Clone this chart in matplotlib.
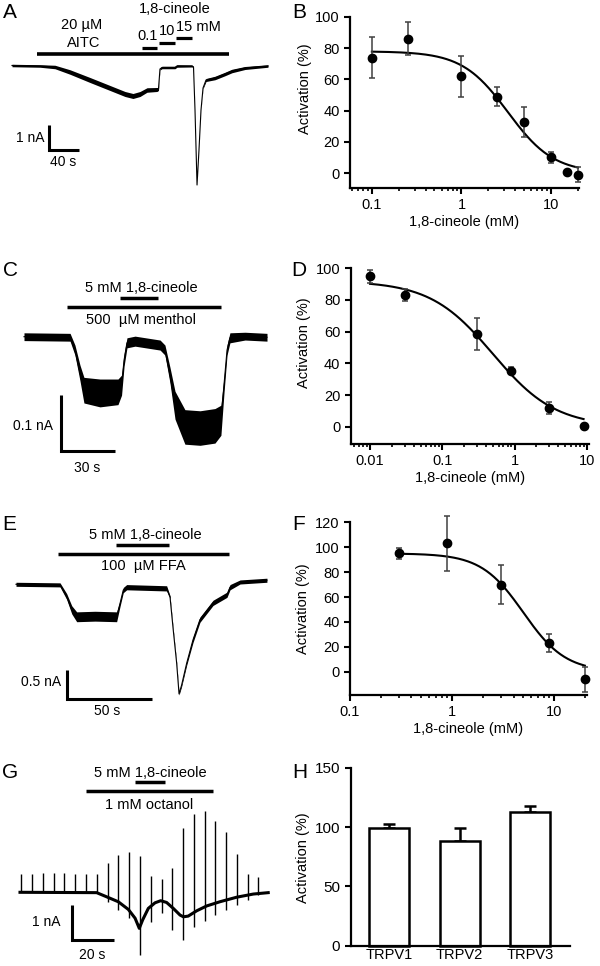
import numpy as np
import matplotlib
matplotlib.use("Agg")
import matplotlib.pyplot as plt

plt.rcParams['font.family'] = ['Liberation Sans', 'DejaVu Sans']

# ---------------- data ----------------
# A: 20 uM AITC current, block by 1,8-cineole (t s, I nA, noise half-width nA)
a_t = [0, 37.3, 57.3, 77.3, 104, 130.7, 150.7, 161.3, 170.7, 180, 193.3, 195.3, 197.3, 200, 217.3,
       220, 240, 242, 244, 246.7, 249.3, 252, 254.7, 258.7, 270.7, 284, 293.3, 310.7, 341.3]
a_i = [0.02, 0, -0.04, -0.24, -0.56, -0.88, -1.12, -1.2, -1.12, -0.96, -0.94, -0.92, -0.12, -0.06, -0.06,
       0, 0, -0.04, -1.76, -4.76, -3.36, -1.76, -0.88, -0.56, -0.48, -0.32, -0.2, -0.08, 0]
a_n = [0.05, 0.05, 0.07, 0.09, 0.1, 0.1, 0.1, 0.1, 0.1, 0.09, 0.08, 0.06, 0.04, 0.05, 0.05,
       0.05, 0.04, 0.02, 0.01, 0.01, 0.01, 0.01, 0.03, 0.06, 0.07, 0.07, 0.07, 0.06, 0.05]
a_aitc = (33.3, 289.3)
a_cin_on = [173.3, 196.0, 218.7]
a_cin_off = [193.3, 217.3, 240.0]

# C: 500 uM menthol + 5 mM 1,8-cineole
c_t = [0, 25.6, 28.3, 31.1, 33.3, 42.2, 52.2, 54.2, 55.6, 57.2, 61.7, 75.6, 78.3, 81.1, 83.9,
       89.4, 97.8, 106.1, 109.4, 111.1, 112.8, 114.4, 122.8, 135]
c_i = [0, -0.001, -0.024, -0.065, -0.096, -0.101, -0.099, -0.087, -0.042, -0.011, -0.008, -0.015,
       -0.024, -0.069, -0.123, -0.162, -0.164, -0.160, -0.150, -0.087, -0.024, -0.002, 0.001, -0.001]
c_n = [.007, .007, .009, .014, .023, .025, .023, .018, .011, .009, .009, .009,
       .009, .014, .025, .031, .031, .031, .027, .014, .009, .009, .007, .007]
c_agonist = (23.9, 109.4)
c_cineole = (53.3, 74.4)

# E: 100 uM FFA + 5 mM 1,8-cineole
e_t = [0, 25.9, 29.8, 32.8, 35.7, 46.5, 59.2, 61.2, 63.1, 65.1, 88.6, 90.6, 92.5, 94.5, 95.9,
       97.4, 100.4, 104.1, 108.2, 115.9, 124.1, 125.9, 131.8, 147.6]
e_i = [0, -0.01, -0.21, -0.44, -0.56, -0.55, -0.56, -0.33, -0.10, -0.05, -0.07, -0.22, -0.79,
       -1.36, -1.89, -1.74, -1.36, -0.96, -0.61, -0.32, -0.18, -0.05, 0.04, 0.07]
e_n = [.035, .035, .05, .07, .085, .085, .085, .05, .045, .045, .045, .025, .02,
       .02, .02, .025, .035, .045, .045, .045, .045, .045, .035, .035]
e_agonist = (24.7, 125.3)
e_cineole = (58.8, 90.0)

# G: 1 mM octanol + 5 mM 1,8-cineole (slow current + voltage-step transients)
g_t = [0, 36.5, 41.3, 46.8, 51.6, 54.8, 56.8, 58.4, 61.1, 64.3, 67.0, 69.8, 73.0, 76.2, 77.8,
       80.1, 84.1, 88.9, 95.2, 103.2, 111.1, 118.2]
g_i = [0, -0.01, -0.13, -0.27, -0.49, -0.74, -1.03, -0.79, -0.46, -0.30, -0.24, -0.29, -0.46,
       -0.65, -0.70, -0.68, -0.53, -0.39, -0.27, -0.14, -0.05, -0.01]
g_spk_t = [0.5, 5.7, 10.8, 16.0, 21.1, 26.2, 31.4, 36.5, 41.7, 46.8, 51.9, 57.1, 62.2, 67.5,
           72.5, 77.6, 82.7, 88.0, 93.0, 98.2, 103.3, 108.4, 113.5]
g_spk_top = [0.52, 0.52, 0.56, 0.56, 0.56, 0.52, 0.52, 0.52, 0.85, 1.07, 1.16, 1.04, 0.47, 0.39,
             0.69, 1.83, 2.24, 2.33, 2.04, 1.71, 1.09, 0.52, 0.43]
g_spk_bot = [0, 0, 0, 0, 0, 0, 0, 0, -0.27, -0.51, -0.74, -1.79, -0.84, -0.60,
             -1.08, -1.36, -0.98, -0.81, -0.65, -0.51, -0.36, -0.22, -0.08]
g_agonist = (31.4, 91.9)
g_cineole = (54.8, 69.0)

# B, D, F: concentration-response (mM, % activation, s.e.m.) and fitted Hill parameters
b_conc = [0.1, 0.25, 1, 2.5, 5, 10, 15, 20]
b_act = [74, 86, 62, 49, 32.5, 10, 0.8, -1]
b_err = [13, 10.5, 13, 6, 9.5, 3.7, 0, 5]
b_fit = (78, 3.3, 1.7)          # top, IC50, Hill

d_conc = [0.01, 0.03, 0.3, 0.9, 3, 9]
d_act = [95, 83, 58.5, 35.4, 12, 0.6]
d_err = [4, 3.7, 10, 2, 3.7, 0]
d_fit = (92, 0.5, 1.0)

f_conc = [0.3, 0.9, 3, 9, 20]
f_act = [95, 103, 70, 23, -6]
f_err = [4.7, 22, 16, 7.5, 10]
f_fit = (95, 5.0, 2.1)

# H: TRPV1-3 activation by 1,8-cineole
h_names = ['TRPV1', 'TRPV2', 'TRPV3']
h_act = [99, 88.5, 113]
h_err = [3.5, 10.5, 4.7]

# ---------------- figure ----------------
W, H = 600, 966
fig = plt.figure(figsize=(6, 9.66), dpi=100)


def box(x0, y0, x1, y1):
    ax = fig.add_axes([x0 / W, 1 - y1 / H, (x1 - x0) / W, (y1 - y0) / H])
    ax.patch.set_alpha(0)
    return ax


def trace_axes(x0, y0, x1, y1, ox, oy, pps, ppn):
    # ox,oy: pixel of t=0,I=0 ; pps px per s ; ppn px per nA
    ax = box(x0, y0, x1, y1)
    ax.set_xlim((x0 - ox) / pps, (x1 - ox) / pps)
    ax.set_ylim((oy - y1) / ppn, (oy - y0) / ppn)
    ax.axis('off')
    return ax


def trace(ax, t, i, n):
    t, i, n = map(np.asarray, (t, i, n))
    ax.fill_between(t, i - n, i + n, color='black', lw=0)
    ax.plot(t, i, color='black', lw=0.8)


def hbar(ax, span, y, lw=2.5):
    ax.plot(span, [y, y], color='black', lw=lw, solid_capstyle='butt')


def scalebar(ax, x, y, dx, dy, ylab, xlab, ly, lx):
    ax.plot([x, x, x + dx], [y + dy, y, y], color='black', lw=2.2,
            solid_joinstyle='miter', solid_capstyle='butt')
    ax.text(x - ly[0], y + dy / 2 + ly[1], ylab, ha='right', va='center', fontsize=10)
    ax.text(x + dx / 2 + lx[0], y - lx[1], xlab, ha='center', va='center', fontsize=10)


FS = 10.5

# ---- A ----
ax = trace_axes(0, 0, 300, 225, 12, 66, 0.75, 25)
trace(ax, a_t, a_i, a_n)
hbar(ax, a_aitc, 0.48, 2.6)
for on, off, y in zip(a_cin_on, a_cin_off, [0.72, 0.92, 1.12]):
    hbar(ax, (on, off), y, 2.3)
ax.text(93.3, 1.64, '20 µM', ha='center', va='center', fontsize=FS)
ax.text(96, 0.92, 'AITC', ha='center', va='center', fontsize=FS)
ax.text(217, 2.28, '1,8-cineole', ha='center', va='center', fontsize=FS)
ax.text(181, 1.2, '0.1', ha='center', va='center', fontsize=FS)
ax.text(206.7, 1.4, '10', ha='center', va='center', fontsize=FS)
ax.text(219, 1.56, '15 mM', ha='left', va='center', fontsize=FS)
scalebar(ax, 49.3, -3.36, 40, 1, '1 nA', '40 s', (5.5, 0), (-1.5, 0.5))

# ---- C ----
ax = trace_axes(0, 235, 300, 475, 24, 336.7, 1.8, 557)
trace(ax, c_t, c_i, c_n)
hbar(ax, c_agonist, 0.053)
hbar(ax, c_cineole, 0.069)
ax.text(65, 0.087, '5 mM 1,8-cineole', ha='center', va='center', fontsize=FS)
ax.text(65, 0.030, '500  µM menthol', ha='center', va='center', fontsize=FS)
scalebar(ax, 20.6, -0.205, 30, 0.1, '0.1 nA', '30 s', (4.5, -0.005), (-0.8, 0.03))

# ---- E ----
ax = trace_axes(0, 480, 300, 722, 16, 584.3, 1.7, 58)
trace(ax, e_t, e_i, e_n)
hbar(ax, e_agonist, 0.52)
hbar(ax, e_cineole, 0.68)
ax.text(75.9, 0.85, '5 mM 1,8-cineole', ha='center', va='center', fontsize=FS)
ax.text(74.7, 0.32, '100  µM FFA', ha='center', va='center', fontsize=FS)
scalebar(ax, 30, -1.97, 50, 0.5, '0.5 nA', '50 s', (3.5, 0.03), (-1.5, 0.22))

# ---- G ----
ax = trace_axes(0, 730, 300, 966, 20, 892.3, 2.1, 35)
ax.vlines(g_spk_t, g_spk_bot, g_spk_top, color='black', lw=1.0)
ax.plot(g_t, g_i, color='black', lw=2.2)
hbar(ax, g_agonist, 2.89)
hbar(ax, g_cineole, 3.14)
ax.text(61.9, 3.40, '5 mM 1,8-cineole', ha='center', va='center', fontsize=FS)
ax.text(61.4, 2.49, '1 mM octanol', ha='center', va='center', fontsize=FS)
scalebar(ax, 24.8, -1.36, 20, 1, '1 nA', '20 s', (5.3, 0.0), (-0.2, 0.43))


# ---- concentration-response panels ----
def hill(x, top, ic50, n):
    return top / (1 + (x / ic50) ** n)


def dose(ax, conc, act, err, fit, xlim, ylim, yticks, xticks, xlabels, lab_y):
    xx = np.logspace(np.log10(conc[0]), np.log10(conc[-1]), 200)
    ax.plot(xx, hill(xx, *fit), color='black', lw=1.5, zorder=2)
    ax.errorbar(conc, act, yerr=err, fmt='o', color='black', ms=6, ecolor='0.25',
                elinewidth=1.1, capsize=2.5, capthick=1.1, zorder=3, clip_on=False)
    ax.set_xscale('log')
    ax.set_xlim(*xlim)
    ax.set_ylim(*ylim)
    ax.set_yticks(yticks)
    ax.set_xticks(xticks, xlabels)
    for s in ('top', 'right'):
        ax.spines[s].set_visible(False)
    for s in ('left', 'bottom'):
        ax.spines[s].set_linewidth(1.6)
    ax.tick_params(which='major', length=4.5, width=1.5, labelsize=10.5, pad=3)
    ax.tick_params(which='minor', length=2.5, width=1.2)
    ax.set_xlabel('1,8-cineole (mM)', fontsize=10.5, labelpad=2)
    ax.set_ylabel('Activation (%)', fontsize=10.5)
    ax.yaxis.set_label_coords(-0.168, lab_y)


ax = box(350, 17, 579, 188)
dose(ax, b_conc, b_act, b_err, b_fit, (0.057, 20.5), (-9.6, 100), range(0, 101, 20),
     [0.1, 1, 10], ['0.1', '1', '10'], 0.58)

ax = box(350.7, 268.3, 589, 444)
dose(ax, d_conc, d_act, d_err, d_fit, (0.0054, 10.7), (-10.9, 100), range(0, 101, 20),
     [0.01, 0.1, 1, 10], ['0.01', '0.1', '1', '10'], 0.578)

ax = box(350, 522.3, 587, 695)
dose(ax, f_conc, f_act, f_err, f_fit, (0.1, 21), (-18.7, 120), range(0, 121, 20),
     [0.1, 1, 10], ['0.1', '1', '10'], 0.50)

# ---- H ----
ax = box(350.7, 767.7, 570, 945.7)
x = np.arange(len(h_names))
ax.bar(x, h_act, width=0.57, color='white', edgecolor='black', lw=1.8, zorder=2, clip_on=False)
ax.errorbar(x, h_act, yerr=[np.zeros(len(h_act)), h_err], fmt='none', ecolor='black',
            elinewidth=1.8, capsize=4, capthick=1.8, zorder=1)
ax.set_xlim(-0.55, 2.57)
ax.set_ylim(0, 150)
ax.set_yticks([0, 50, 100, 150])
ax.set_xticks(x, h_names)
for s in ('top', 'right'):
    ax.spines[s].set_visible(False)
for s in ('left', 'bottom'):
    ax.spines[s].set_linewidth(1.6)
ax.tick_params(axis='y', length=4.5, width=1.5, labelsize=11, pad=3)
ax.tick_params(axis='x', length=0, labelsize=10.5, pad=2)
ax.set_ylabel('Activation (%)', fontsize=10.5)
ax.yaxis.set_label_coords(-0.186, 0.497)

# ---- panel letters ----
for letter, px, py in [('A', 10, 13), ('B', 299, 13), ('C', 10, 270), ('D', 299, 270),
                       ('E', 9, 525), ('F', 299, 525), ('G', 10, 772), ('H', 300, 772)]:
    fig.text(px / W, 1 - py / H, letter, ha='center', va='center', fontsize=15)

fig.savefig('out.png', dpi=100)
